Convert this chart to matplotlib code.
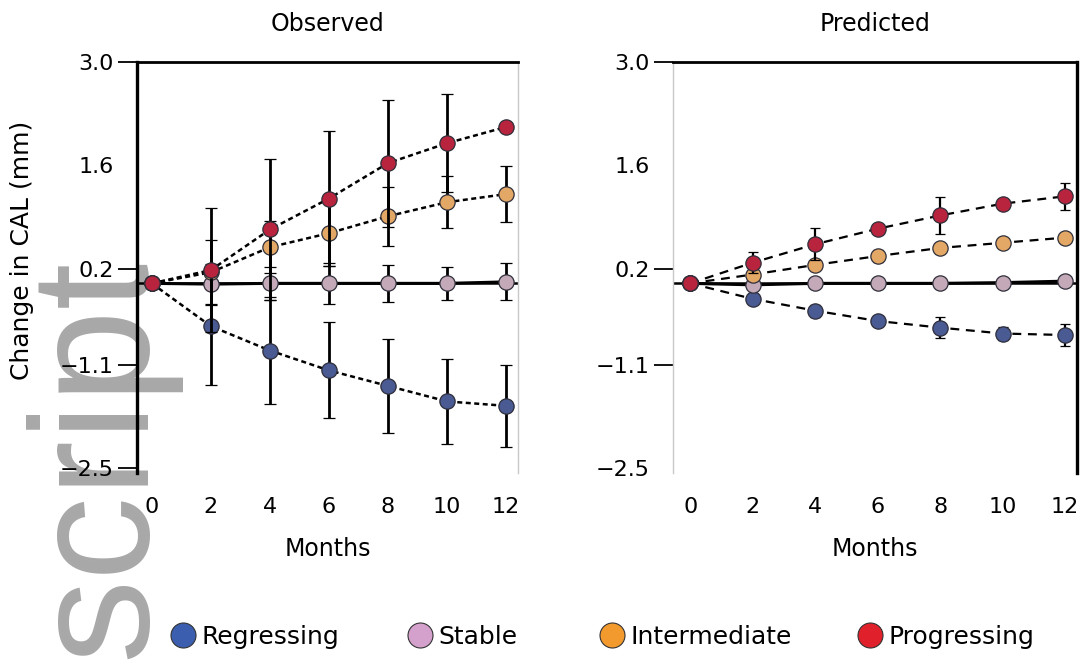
import matplotlib
matplotlib.use("Agg")
import matplotlib.pyplot as plt
from matplotlib.lines import Line2D

plt.rcParams['font.family'] = ['DejaVu Sans']

months = [0, 2, 4, 6, 8, 10, 12]
series_names = ["Regressing", "Stable", "Intermediate", "Progressing"]
yticks = [3.0, 1.6, 0.2, -1.1, -2.5]
ytick_labels = ["3.0", "1.6", "0.2", "\u22121.1", "\u22122.5"]

# Observed means and error bars
obs_regressing = [0.0, -0.58, -0.91, -1.18, -1.39, -1.60, -1.66]
obs_regressing_err = [0.0, 0.80, 0.72, 0.65, 0.64, 0.58, 0.56]
obs_stable = [0.0, -0.01, 0.0, 0.0, 0.0, 0.0, 0.02]
obs_stable_err = [0.0, 0.27, 0.22, 0.28, 0.25, 0.22, 0.25]
obs_intermediate = [0.0, 0.15, 0.49, 0.68, 0.91, 1.10, 1.21]
obs_intermediate_err = [0.0, 0.44, 0.35, 0.45, 0.40, 0.35, 0.38]
obs_progressing = [0.0, 0.18, 0.73, 1.15, 1.63, 1.90, 2.12]
obs_progressing_err = [0.0, 0.84, 0.96, 0.92, 0.86, 0.66, 0.0]

# Predicted means and error bars
pred_regressing = [0.0, -0.21, -0.37, -0.51, -0.60, -0.68, -0.70]
pred_regressing_err = [0.0, 0.06, 0.08, 0.06, 0.14, 0.09, 0.15]
pred_stable = [0.0, -0.02, 0.0, 0.0, 0.0, 0.01, 0.03]
pred_stable_err = [0.0, 0.04, 0.04, 0.04, 0.05, 0.05, 0.05]
pred_intermediate = [0.0, 0.12, 0.25, 0.37, 0.48, 0.55, 0.62]
pred_intermediate_err = [0.0, 0.06, 0.06, 0.08, 0.07, 0.05, 0.05]
pred_progressing = [0.0, 0.28, 0.53, 0.74, 0.92, 1.08, 1.18]
pred_progressing_err = [0.0, 0.14, 0.22, 0.05, 0.25, 0.05, 0.18]

plot_colors = ["#4a5a92", "#c4aab9", "#e4a866", "#b8243e"]
legend_colors = ["#3b5fae", "#d4a0cc", "#f29a2e", "#e0202a"]
edge = "#2e2e3a"

fig = plt.figure(figsize=(10.88, 6.61), dpi=100)
axL = fig.add_axes([137/1088, 1-473/661, (518-137)/1088, (473-62)/661])
axR = fig.add_axes([673/1088, 1-473/661, (1077-673)/1088, (473-62)/661])

obs = [(obs_regressing, obs_regressing_err), (obs_stable, obs_stable_err),
       (obs_intermediate, obs_intermediate_err), (obs_progressing, obs_progressing_err)]
pred = [(pred_regressing, pred_regressing_err), (pred_stable, pred_stable_err),
        (pred_intermediate, pred_intermediate_err), (pred_progressing, pred_progressing_err)]

def draw(ax, data, ls, lw, capsize, elw, xlim, hidden_ticks):
    ax.set_facecolor('none')
    ax.axhline(0, color='black', lw=1.8, zorder=2)
    for i, (vals, err) in enumerate(data):
        style = '-' if i == 1 else ls
        ax.errorbar(months, vals, yerr=err, color='black', ecolor='black',
                    elinewidth=elw, capsize=capsize, capthick=elw,
                    linestyle=style, linewidth=(2.2 if i == 1 else lw),
                    marker='o', markersize=11, markerfacecolor=plot_colors[i],
                    markeredgecolor=edge, markeredgewidth=0.9, zorder=3 + i)
    ax.set_xlim(*xlim)
    ax.set_ylim(-2.57, 3.0)
    ax.set_xticks(months)
    ax.set_xticklabels([str(m) for m in months])
    ax.set_yticks(yticks)
    ax.set_yticklabels(ytick_labels)
    ax.tick_params(axis='x', length=0, pad=17, labelsize=16)
    ax.tick_params(axis='y', length=14, width=1.3, pad=3, labelsize=16)
    for k in hidden_ticks:
        ax.yaxis.get_major_ticks()[k].tick1line.set_visible(False)
    ax.spines['bottom'].set_visible(False)
    ax.spines['top'].set_linewidth(2.0)
    ax.set_xlabel("Months", fontsize=17, labelpad=15)

draw(axL, obs, (0, (2.0, 1.4)), 1.8, 4.5, 2.0, (-0.5, 12.4), [1])
draw(axR, pred, (0, (4.0, 3.0)), 1.6, 3.5, 1.6, (-0.55, 12.38), [1, 4])

axL.spines['left'].set_linewidth(2.4)
axL.spines['right'].set_color('#c8c8c8')
axL.spines['right'].set_linewidth(1.0)
axR.spines['left'].set_color('#c8c8c8')
axR.spines['left'].set_linewidth(1.0)
axR.spines['right'].set_linewidth(2.4)

axL.set_title("Observed", fontsize=17, pad=22)
axR.set_title("Predicted", fontsize=17, pad=22)
axL.set_ylabel("Change in CAL (mm)", fontsize=18)
axL.yaxis.set_label_coords((34 - 137) / 381, (473 - 250) / 411)

# legend entries, one per category, placed along the bottom
legend_centers_px = [183, 420, 612, 870]
for i, name in enumerate(series_names):
    h = Line2D([0], [0], linestyle='none', marker='o', markersize=18,
               markerfacecolor=legend_colors[i], markeredgecolor='#333333',
               markeredgewidth=0.8)
    fig.legend([h], [name], loc='center left', frameon=False,
               bbox_to_anchor=((legend_centers_px[i] - 14) / 1088, 1 - 637 / 661),
               fontsize=18, handlelength=1.1, handletextpad=0.2,
               borderpad=0, borderaxespad=0)

fig.text(22/1088, 1-258/661, "script", rotation=90, fontsize=121,
         color='#a8a8a8', ha='left', va='top', zorder=-1,
         family=['Liberation Sans', 'DejaVu Sans'])

fig.savefig("out.png", dpi=100)
